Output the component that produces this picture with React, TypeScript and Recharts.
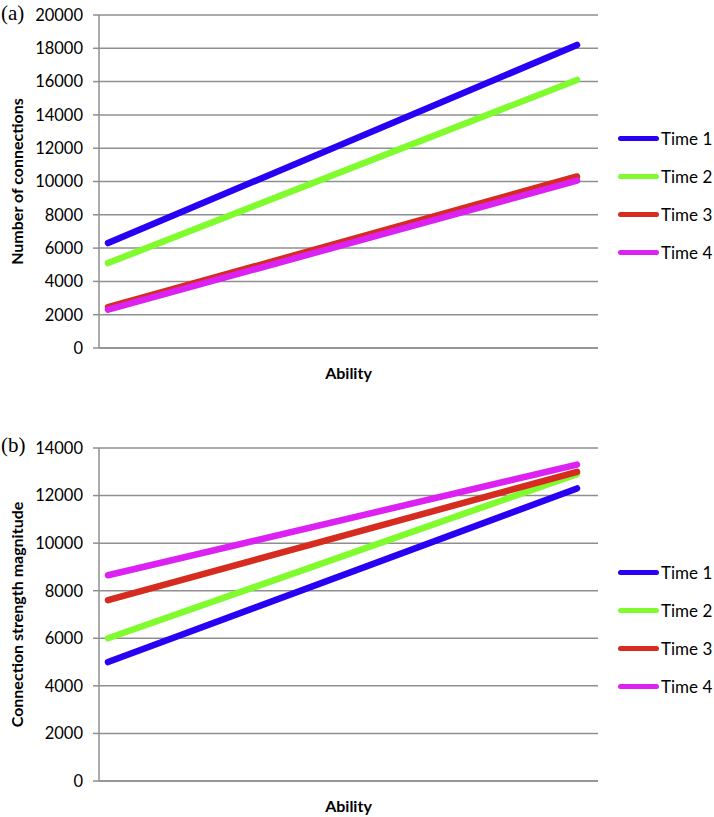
import React from "react";
import { LineChart, Line, CartesianGrid, XAxis, YAxis } from "recharts";

const abilityLevels = ["Low", "High"];
const seriesNames = ["Time 1", "Time 2", "Time 3", "Time 4"];
const seriesColors = ["#2a00f5", "#80fb2e", "#d62b1f", "#dc22f2"];

// (a) number of connections
const connT1 = [6300, 18200];
const connT2 = [5100, 16100];
const connT3 = [2450, 10300];
const connT4 = [2300, 10050];
const connTicks = [0, 2000, 4000, 6000, 8000, 10000, 12000, 14000, 16000, 18000, 20000];

// (b) connection strength magnitude
const strT1 = [5000, 12300];
const strT2 = [6000, 12900];
const strT3 = [7600, 13000];
const strT4 = [8650, 13300];
const strTicks = [0, 2000, 4000, 6000, 8000, 10000, 12000, 14000];

const font = "Lato, 'Open Sans', sans-serif";
const gridGray = "#8f8f8f";

function buildRows(series: number[][]) {
  return abilityLevels.map((a, i) => {
    const row: Record<string, string | number> = { ability: a };
    seriesNames.forEach((n, k) => {
      row[n] = series[k][i];
    });
    return row;
  });
}

const connData = buildRows([connT1, connT2, connT3, connT4]);
const strData = buildRows([strT1, strT2, strT3, strT4]);

function Legend({ top }: { top: number }) {
  return (
    <div style={{ position: "absolute", left: 618, top, fontFamily: font, fontSize: 17, color: "#000" }}>
      {seriesNames.map((n, i) => (
        <div key={n} style={{ height: 38, display: "flex", alignItems: "center" }}>
          <div style={{ width: 41, height: 5, borderRadius: 3, background: seriesColors[i], marginRight: 2 }} />
          <span>{n}</span>
        </div>
      ))}
    </div>
  );
}

function Panel(props: {
  data: Array<Record<string, string | number>>;
  ticks: number[];
  yLabel: string;
  height: number;
  marginTop: number;
  xHeight: number;
}) {
  const { data, ticks, yLabel, height, marginTop, xHeight } = props;
  return (
    <LineChart
      width={714}
      height={height}
      data={data}
      margin={{ top: marginTop, right: 116, bottom: height - marginTop - xHeight - 333, left: 0 }}
    >
      <CartesianGrid vertical={false} stroke={gridGray} strokeWidth={1.5} />
      <XAxis
        dataKey="ability"
        tick={false}
        tickLine={false}
        height={xHeight}
        padding={{ left: 9, right: 21 }}
        axisLine={{ stroke: gridGray, strokeWidth: 1.5 }}
        label={{
          value: "Ability",
          position: "insideTop",
          offset: 20,
          style: { fontFamily: font, fontWeight: 700, fontSize: 16, fill: "#000" },
        }}
      />
      <YAxis
        width={99}
        domain={[ticks[0], ticks[ticks.length - 1]]}
        ticks={ticks}
        interval={0}
        tickSize={6}
        tickMargin={10}
        axisLine={{ stroke: gridGray, strokeWidth: 1.5 }}
        tickLine={{ stroke: gridGray, strokeWidth: 1.5 }}
        tick={{ fontFamily: font, fontSize: 16.5, fill: "#000" }}
        label={{
          value: yLabel,
          angle: -90,
          position: "insideLeft",
          offset: 17,
          style: { textAnchor: "middle", fontFamily: font, fontWeight: 700, fontSize: 16, fill: "#000" },
        }}
      />
      {seriesNames.map((n, i) => (
        <Line
          key={n}
          dataKey={n}
          type="linear"
          stroke={seriesColors[i]}
          strokeWidth={6.5}
          strokeLinecap="round"
          dot={false}
          activeDot={false}
          isAnimationActive={false}
        />
      ))}
    </LineChart>
  );
}

export default function App() {
  return (
    <div style={{ position: "absolute", left: 0, top: 0, width: 714, height: 817, background: "#fff", overflow: "hidden" }}>
      <div style={{ position: "absolute", left: 0, top: 0 }}>
        <Panel data={connData} ticks={connTicks} yLabel="Number of connections" height={400} marginTop={15} xHeight={40} />
      </div>
      <div style={{ position: "absolute", left: 0, top: 400 }}>
        <Panel data={strData} ticks={strTicks} yLabel="Connection strength magnitude" height={417} marginTop={48} xHeight={36} />
      </div>
      <Legend top={119} />
      <Legend top={553} />
      <div style={{ position: "absolute", left: 1, top: 1, fontFamily: "'Liberation Serif', serif", fontSize: 21 }}>(a)</div>
      <div style={{ position: "absolute", left: 1, top: 433, fontFamily: "'Liberation Serif', serif", fontSize: 21 }}>(b)</div>
    </div>
  );
}
